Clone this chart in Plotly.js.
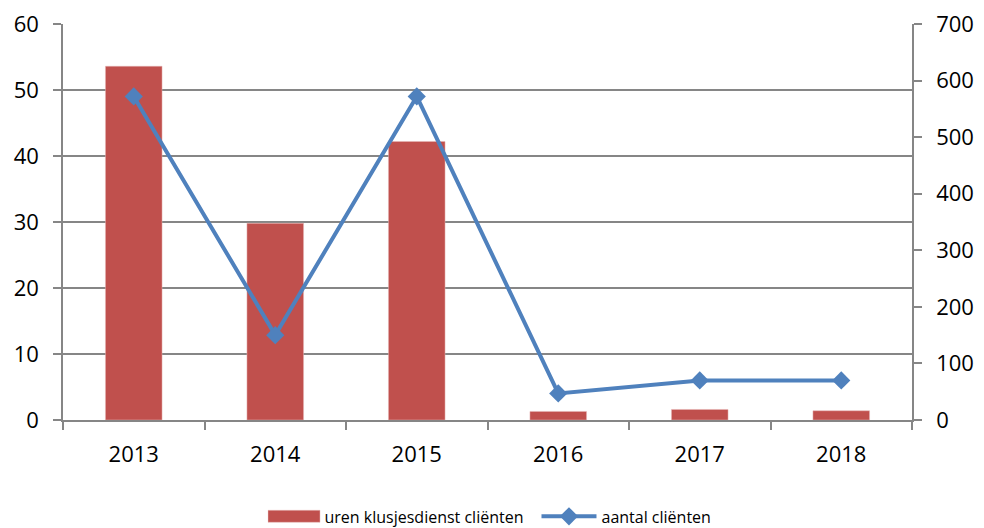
<!DOCTYPE html>
<html><head><meta charset="utf-8">
<script src="https://cdn.plot.ly/plotly-3.0.1.min.js"></script>
<style>html,body{margin:0;padding:0;background:#fff}#c{width:984px;height:528px}</style>
</head><body><div id="c"></div>
<script>
var years = ['2013','2014','2015','2016','2017','2018'];
var uren = [53.6, 29.8, 42.2, 1.3, 1.6, 1.4];
var aantal = [572, 150, 572, 47, 70, 70];

var fam = '"Open Sans", "Noto Sans", sans-serif';
function f(s){ return {family: fam, size: s, color: '#000'}; }
var traces = [
  {type: 'bar', x: years, y: uren, name: 'uren klusjesdienst cliënten',
   marker: {color: '#C0504D', line: {color: '#E6B9B8', width: 0.5}}, yaxis: 'y'},
  {type: 'scatter', mode: 'lines+markers', x: years, y: aantal, name: 'aantal cliënten',
   line: {color: '#4F81BD', width: 4}, marker: {symbol: 'diamond', size: 14, color: '#4F81BD'}, yaxis: 'y2'}
];
var layout = {
  width: 984, height: 528,
  margin: {l: 63, r: 72, t: 24, b: 108, autoexpand: false},
  paper_bgcolor: '#fff', plot_bgcolor: '#fff',
  font: f(22),
  bargap: 0.6,
  showlegend: true,
  legend: {orientation: 'h', x: 0.5, xanchor: 'center', xref: 'container', yref: 'container', y: 0.022, yanchor: 'middle',
           font: f(16), traceorder: 'normal', itemwidth: 55},
  xaxis: {type: 'category', showline: true, linecolor: '#868686', linewidth: 1.5,
          ticks: 'outside', tickson: 'boundaries', ticklen: 8, tickcolor: '#868686', tickwidth: 1.5,
          showgrid: false, zeroline: false, tickfont: f(22), ticklabelstandoff: 14},
  yaxis: {range: [0, 60], dtick: 10, showline: true, linecolor: '#868686', linewidth: 1.5,
          ticks: 'outside', ticklen: 8, tickcolor: '#868686', tickwidth: 1.5,
          showgrid: true, gridcolor: '#868686', gridwidth: 1.5, zeroline: false,
          tickfont: f(22), ticklabelstandoff: 10},
  yaxis2: {range: [0, 700], dtick: 100, overlaying: 'y', side: 'right', showline: true,
           linecolor: '#868686', linewidth: 1.5, ticks: 'outside', ticklen: 8, tickcolor: '#868686',
           tickwidth: 1.5, showgrid: false, zeroline: false, tickfont: f(22), ticklabelstandoff: 10}
};
function shift(el, dx) {
  var t = el.getAttribute('transform') || '';
  var m = t.match(/translate\(\s*([-\d.]+)[ ,]+([-\d.]+)\s*\)/);
  if (m) el.setAttribute('transform', 'translate(' + (parseFloat(m[1]) + dx) + ',' + m[2] + ')');
}
Plotly.newPlot('c', traces, layout, {displayModeBar: false}).then(function(gd){
  var items = gd.querySelectorAll('.legend .traces');
  if (items.length) {
    var p = items[0].querySelector('.legendpoints path');
    if (p) p.setAttribute('d', 'M-24,-6H28V6H-24Z');
    shift(items[0], -8);
  }
});
</script></body></html>
